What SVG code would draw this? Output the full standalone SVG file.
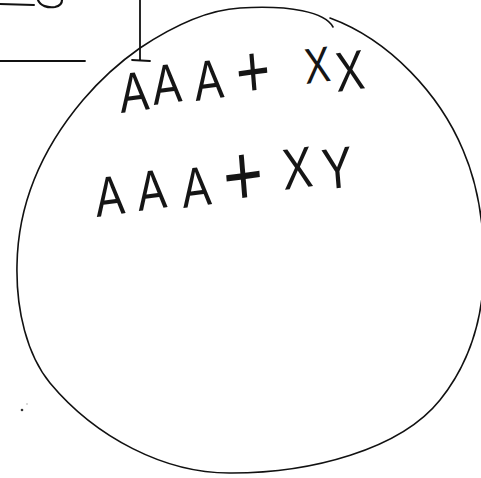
<svg xmlns="http://www.w3.org/2000/svg" width="481" height="478" viewBox="0 0 481 478">
<style>
.ink{fill:none;stroke:#111;stroke-linecap:round;stroke-linejoin:round}
.hw{font-family:"Liberation Sans","DejaVu Sans",sans-serif;font-size:56px;fill:#151515}
</style>
<rect width="481" height="478" fill="#ffffff"/>
<g id="marks">
<path class="ink" d="M0,4 L34,5" stroke-width="2" stroke="#777"/>
<path class="ink" d="M38,0 C40,6 48,8 55,7 C60,6 62,3 62,0" stroke-width="2.2"/>
<path class="ink" d="M0,61 L85,61" stroke-width="1.8" stroke="#555"/>
<path class="ink" d="M140,0 L140,60 M132,60 L150,61" stroke-width="1.8"/>
<circle cx="22" cy="410" r="1.3" fill="#333"/>
<circle cx="27" cy="404" r="0.8" fill="#aaa"/>
</g>
<g id="circle">
<path class="ink" stroke-width="1.6" d="M330,18 C390,40 440,95 463,150 C476,180 484,220 484,265 C484,320 468,365 440,400 C400,450 310,473 232,473 C165,474 95,437 50,383 C27,355 16,310 17,265 C18,200 45,145 83,100 C100,80 120,62 140,48 C170,28 205,10 240,8 C290,5 325,12 333,27"/>
</g>
<g id="line1">
<text class="hw" transform="scale(0.78 1)" rotate="-6"><tspan x="155" y="113">A</tspan><tspan x="197" y="105">A</tspan><tspan x="251" y="101">A</tspan><tspan x="305" y="99" font-size="75">+</tspan><tspan x="392" y="84" font-size="50">X</tspan><tspan x="432" y="92" font-size="56">X</tspan></text>
</g>
<g id="line2">
<text class="hw" transform="scale(0.78 1)" rotate="-6"><tspan x="124" y="217">A</tspan><tspan x="178" y="211">A</tspan><tspan x="235" y="208">A</tspan><tspan x="289" y="208" font-size="88">+</tspan><tspan x="364" y="190" font-size="58">X</tspan><tspan x="415" y="190" font-size="58">Y</tspan></text>
</g>
</svg>
